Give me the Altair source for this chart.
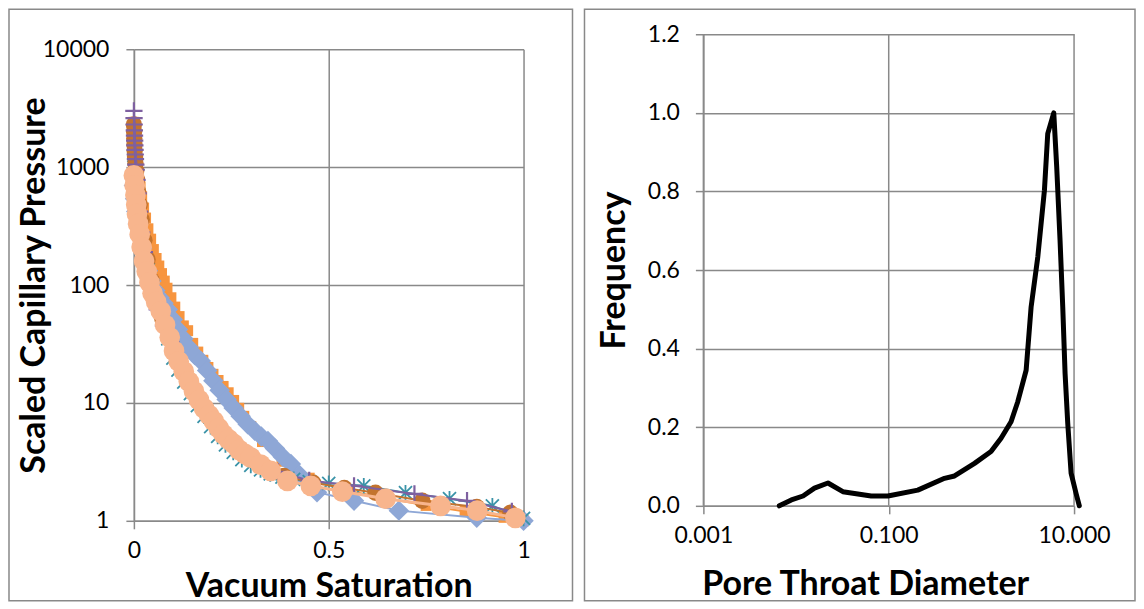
import altair as alt
import pandas as pd

# ---------------- Left panel data (Vacuum Saturation vs Scaled Capillary Pressure) ----------------
blue_x = [0, 0.003, 0.006, 0.01, 0.015, 0.021, 0.028, 0.036, 0.045, 0.055, 0.066, 0.076, 0.087, 0.1,
          0.113, 0.127, 0.141, 0.156, 0.172, 0.188, 0.204, 0.22, 0.238, 0.256, 0.274, 0.292, 0.31,
          0.327, 0.344, 0.362, 0.382, 0.403, 0.425, 0.47, 0.565, 0.68, 0.88, 1.0]
blue_p = [700, 540, 420, 330, 260, 205, 165, 132, 108, 90, 78, 70, 62, 51, 42, 35, 29.5, 25.5, 22.7,
          18.8, 15.4, 12.8, 10.7, 9.06, 7.7, 6.6, 5.8, 5.2, 4.76, 4.1, 3.5, 3.04, 2.45, 1.75, 1.48,
          1.22, 1.06, 1.0]

orange_x = [0, 0.0005, 0.001, 0.0015, 0.002, 0.003, 0.004, 0.005, 0.007, 0.009, 0.012, 0.016, 0.02,
            0.025, 0.03, 0.036, 0.043, 0.05, 0.057, 0.064, 0.071, 0.078, 0.085, 0.095, 0.105, 0.116,
            0.127, 0.138, 0.151, 0.164, 0.177, 0.19, 0.203, 0.216, 0.229, 0.242, 0.256, 0.269, 0.282,
            0.3, 0.33, 0.38, 0.45, 0.55, 0.65, 0.75, 0.85, 0.95, 1.0]
orange_p = [2400, 2150, 1950, 1750, 1580, 1420, 1280, 1150, 1030, 920, 800, 680, 560, 450, 370, 300,
            245, 200, 168, 145, 125, 108, 94, 78, 65, 54, 45, 41, 32, 27, 23, 20, 17.5, 15.5, 13.8,
            12.2, 10.5, 9, 7.7, 6.3, 4.7, 3.2, 2.3, 1.8, 1.55, 1.35, 1.2, 1.07, 1.0]

teal_x = [0, 0.002, 0.005, 0.009, 0.014, 0.02, 0.028, 0.037, 0.048, 0.06, 0.073, 0.087, 0.1, 0.113,
          0.128, 0.145, 0.163, 0.18, 0.197, 0.215, 0.235, 0.255, 0.277, 0.3, 0.325, 0.35, 0.38,
          0.41, 0.45, 0.5, 0.59, 0.697, 0.81, 0.92, 1.0]
teal_p = [1000, 760, 570, 430, 330, 250, 185, 135, 98, 70, 50, 35, 24, 19, 15, 12, 9.5, 7.7, 6.3,
          5.2, 4.4, 3.8, 3.3, 2.95, 2.7, 2.5, 2.35, 2.25, 2.15, 2.08, 1.98, 1.73, 1.54, 1.34, 1.05]

brown_x = [0, 0.0005, 0.001, 0.0015, 0.002, 0.003, 0.004, 0.006, 0.008, 0.011, 0.015, 0.02, 0.027,
           0.035, 0.045, 0.058, 0.073, 0.09, 0.11, 0.133, 0.158, 0.185, 0.215, 0.25, 0.29, 0.335,
           0.385, 0.46, 0.54, 0.62, 0.74, 0.88, 0.966]
brown_p = [2300, 2000, 1750, 1550, 1380, 1220, 1080, 930, 780, 620, 480, 360, 240, 165, 110, 75, 52,
           36, 24, 17, 12, 9, 6.5, 4.7, 3.6, 2.9, 2.4, 2.1, 1.9, 1.73, 1.48, 1.31, 1.17]

purple_x = [0, 0.0004, 0.0008, 0.0012, 0.0016, 0.002, 0.0025, 0.003, 0.0035, 0.004, 0.005, 0.006,
            0.008, 0.011, 0.015, 0.02, 0.027, 0.036, 0.047, 0.06, 0.076, 0.095, 0.117, 0.142, 0.17,
            0.2, 0.235, 0.275, 0.32, 0.37, 0.45, 0.565, 0.72, 0.855, 0.97]
purple_p = [3000, 2600, 2300, 2050, 1850, 1680, 1530, 1400, 1280, 1170, 1050, 950, 780, 600, 420,
            280, 190, 130, 90, 62, 45, 33, 22, 15.5, 11, 7.5, 5.3, 4.0, 3.1, 2.6, 2.2, 1.98, 1.69,
            1.48, 1.2]

peach_x = [0, 0.002, 0.004, 0.006, 0.008, 0.011, 0.015, 0.02, 0.026, 0.033, 0.04, 0.048, 0.057,
           0.069, 0.08, 0.092, 0.103, 0.115, 0.128, 0.141, 0.154, 0.167, 0.18, 0.193, 0.205, 0.218,
           0.23, 0.243, 0.256, 0.27, 0.285, 0.3, 0.325, 0.351, 0.394, 0.454, 0.535, 0.646, 0.787,
           0.881, 0.979]
peach_p = [850, 700, 580, 480, 400, 330, 270, 210, 160, 130, 105, 85, 72, 60, 46, 36, 27.6, 22.5,
           18.5, 15.2, 12.6, 10.6, 9.0, 7.9, 7.0, 6.1, 5.4, 4.9, 4.5, 4.0, 3.7, 3.44, 3.0, 2.65,
           2.18, 1.98, 1.77, 1.54, 1.34, 1.22, 1.06]

left_x_ticks = [0, 0.5, 1]
left_y_ticks = [1, 10, 100, 1000, 10000]

# ---------------- Right panel data (Pore Throat Diameter vs Frequency) ----------------
diameter = [0.0066, 0.0089, 0.0119, 0.0158, 0.0221, 0.032, 0.0647, 0.098, 0.206, 0.40, 0.513,
            0.843, 1.27, 1.63, 2.09, 2.47, 3.04, 3.44, 4.06, 4.79, 5.2, 6.04, 6.5, 7.06, 7.55, 8.0,
            8.55, 9.29, 10.5, 11.4]
frequency = [0.0, 0.015, 0.025, 0.045, 0.058, 0.036, 0.025, 0.025, 0.04, 0.07, 0.076, 0.108, 0.138,
             0.172, 0.214, 0.265, 0.345, 0.506, 0.633, 0.803, 0.947, 1.0, 0.862, 0.676, 0.506,
             0.337, 0.21, 0.083, 0.032, 0.0]
right_x_ticks = [0.001, 0.1, 10]
right_y_ticks = [0, 0.2, 0.4, 0.6, 0.8, 1.0, 1.2]

# ---------------- Styling ----------------
GRID = '#898989'
FONT = 'Lato'
LABEL_SIZE = 23
TITLE_SIZE = 34

PLUS = 'M-1,0L1,0M0,-1L0,1'
STAR = 'M-1,-1L1,1M-1,1L1,-1M0,-1.2L0,1.2'

axis_common = dict(
    gridColor=GRID, gridWidth=1.5,
    domainColor=GRID, domainWidth=1.5,
    tickColor=GRID, tickWidth=1.5, tickSize=8,
    labelFont=FONT, labelFontSize=LABEL_SIZE, labelColor='black',
    titleFont=FONT, titleFontSize=TITLE_SIZE, titleFontWeight='bold', titleColor='black',
)

xl = alt.X('x:Q', scale=alt.Scale(domain=[0, 1], nice=False, zero=False),
           axis=alt.Axis(values=left_x_ticks, format='~g', title='Vacuum Saturation', grid=True,
                         labelPadding=11, labelFlush=False, titleY=76, titleBaseline='alphabetic',
                         **axis_common))
yl = alt.Y('p:Q', scale=alt.Scale(type='log', domain=[1, 10000], nice=False),
           axis=alt.Axis(values=left_y_ticks, format='d', title='Scaled Capillary Pressure', grid=True,
                         labelPadding=17, labelFlush=False, titleAngle=270, titleX=-82, titleY=236,
                         titleBaseline='bottom', titleAlign='center', **axis_common))


def series(xs, ps, color, shape, size, filled=True, line_w=2.0, stroke_w=2.0):
    df = pd.DataFrame({'x': xs, 'p': ps})
    base = alt.Chart(df)
    line = base.mark_line(color=color, strokeWidth=line_w).encode(x=xl, y=yl)
    if filled:
        pts = base.mark_point(shape=shape, size=size, filled=True, fill=color, opacity=1,
                              strokeWidth=0).encode(x=xl, y=yl)
    else:
        pts = base.mark_point(shape=shape, size=size, filled=False, stroke=color, opacity=1,
                              strokeWidth=stroke_w).encode(x=xl, y=yl)
    return [line, pts]


frame_df = pd.DataFrame({'k': [0]})
frame_left = alt.Chart(frame_df).mark_rect(fill='transparent', stroke=GRID, strokeWidth=1.5).encode(
    x=alt.value(-125), x2=alt.value(439), y=alt.value(-40), y2=alt.value(552))

layers = [frame_left]
layers += series(orange_x, orange_p, '#F7953F', 'square', 120)
layers += series(blue_x, blue_p, '#8EA7D6', 'diamond', 420)
layers += series(teal_x, teal_p, '#3A93A8', STAR, 170, filled=False, stroke_w=1.8)
layers += series(brown_x, brown_p, '#C3732E', 'circle', 270)
layers += series(purple_x, purple_p, '#7E60A0', PLUS, 300, filled=False, stroke_w=2.2)
layers += series(peach_x, peach_p, '#F8B58D', 'circle', 430, line_w=3)

left = alt.layer(*layers).properties(width=390, height=472)

# ---------------- Right panel ----------------
# The plot sits 15px higher than the left one: the view keeps the left panel's origin and the
# y range reaches above it.
RH = 457
rdf = pd.DataFrame({'d': diameter, 'f': frequency})
gdf = pd.DataFrame({'d': right_x_ticks, 'f0': [0] * len(right_x_ticks),
                    'f1': [max(right_y_ticks)] * len(right_x_ticks)})

xr = alt.X('d:Q', scale=alt.Scale(type='log', domain=[0.001, 10], nice=False),
           axis=alt.Axis(values=right_x_ticks, format='.3f', title='Pore Throat Diameter', grid=False,
                         labelPadding=11, labelFlush=False, titleX=162, titleY=89,
                         titleBaseline='alphabetic', **axis_common))
yr = alt.Y('f:Q', scale=alt.Scale(domain=[0, 1.2], nice=False, zero=True, range=[RH, -15]),
           axis=alt.Axis(values=right_y_ticks, format='.1f', title='Frequency', grid=True,
                         labelPadding=16, labelFlush=False, titleAngle=270, titleX=-72, titleY=221,
                         titleBaseline='bottom', titleAlign='center', **axis_common))

frame_right = alt.Chart(frame_df).mark_rect(fill='transparent', stroke=GRID, strokeWidth=1.5).encode(
    x=alt.value(-119), x2=alt.value(432), y=alt.value(-40), y2=alt.value(552))

vgrid = alt.Chart(gdf).mark_rule(color=GRID, strokeWidth=1.5).encode(
    x=xr, y=alt.Y('f0:Q', scale=alt.Scale(domain=[0, 1.2], nice=False, zero=True, range=[RH, -15])),
    y2='f1:Q')

curve = alt.Chart(rdf).mark_line(color='black', strokeWidth=5, strokeCap='round',
                                 strokeJoin='round').encode(x=xr, y=yr)

right = alt.layer(frame_right, vgrid, curve).properties(width=371, height=RH)

chart = alt.hconcat(left, right, spacing=10).resolve_scale(x='independent', y='independent')
chart = chart.properties(padding=0, background='white').configure_view(strokeWidth=0)

chart.save("out.html", embed_options={"renderer": "svg", "actions": False})
